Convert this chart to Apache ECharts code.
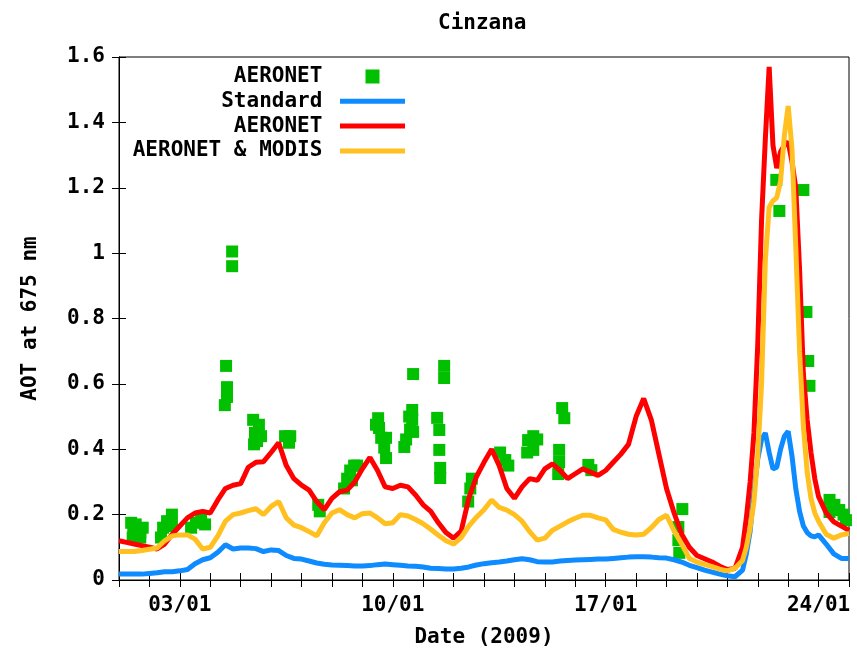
<!DOCTYPE html>
<html>
<head>
<meta charset="utf-8">
<script src="https://cdn.jsdelivr.net/npm/echarts@6/dist/echarts.min.js"></script>
<style>
  html, body { margin: 0; padding: 0; background: #ffffff; }
  #chart { width: 857px; height: 653px; }
</style>
</head>
<body>
<div id="chart"></div>
<script>
// Time is counted in days since 01/01/2009 00 UTC.
const modelDays = [
  0, 0.25, 0.5, 0.75, 1, 1.25, 1.5, 1.75, 2, 2.25, 2.5, 2.75, 3, 3.25, 3.5, 3.75, 4, 4.25, 4.5, 4.75,
  5, 5.25, 5.5, 5.75, 6, 6.25, 6.5, 6.75, 7, 7.25, 7.5, 7.75, 8, 8.25, 8.5, 8.75, 9, 9.25, 9.5, 9.75,
  10, 10.25, 10.5, 10.75, 11, 11.25, 11.5, 11.75, 12, 12.25, 12.5, 12.75, 13, 13.25, 13.5, 13.75, 14, 14.25, 14.5, 14.75,
  15, 15.25, 15.5, 15.75, 16, 16.25, 16.5, 16.75, 17, 17.25, 17.5, 17.75, 18, 18.25, 18.5, 18.75, 19, 19.25, 19.5, 19.75,
  20, 20.25, 20.5, 20.625, 20.75, 20.875, 21, 21.125, 21.25, 21.375, 21.5, 21.625, 21.75, 21.875, 22, 22.125, 22.25, 22.375, 22.5, 22.625,
  22.75, 22.875, 23, 23.25, 23.5, 23.75, 24
];

// Modelled AOT at 675 nm, standard run
const standardAot = [
  0.018, 0.018, 0.018, 0.018, 0.020, 0.022, 0.025, 0.025, 0.028, 0.032, 0.050, 0.062, 0.068, 0.085, 0.108, 0.095, 0.098, 0.098, 0.096, 0.087,
  0.092, 0.090, 0.075, 0.066, 0.064, 0.058, 0.052, 0.048, 0.046, 0.045, 0.044, 0.043, 0.043, 0.044, 0.047, 0.049, 0.047, 0.045, 0.043, 0.042,
  0.040, 0.036, 0.035, 0.034, 0.034, 0.036, 0.040, 0.046, 0.050, 0.053, 0.055, 0.058, 0.062, 0.065, 0.062, 0.056, 0.055, 0.055, 0.058, 0.060,
  0.061, 0.062, 0.063, 0.064, 0.064, 0.066, 0.068, 0.070, 0.071, 0.071, 0.070, 0.068, 0.067, 0.062, 0.055, 0.045, 0.038, 0.030, 0.024, 0.018,
  0.013, 0.010, 0.030, 0.080, 0.150, 0.270, 0.370, 0.430, 0.450, 0.390, 0.340, 0.345, 0.400, 0.440, 0.455, 0.380, 0.280, 0.210, 0.165, 0.145,
  0.135, 0.132, 0.138, 0.110, 0.080, 0.066, 0.066
];

// Modelled AOT, assimilating AERONET
const aeronetAot = [
  0.120, 0.115, 0.110, 0.105, 0.100, 0.095, 0.110, 0.140, 0.165, 0.190, 0.205, 0.210, 0.205, 0.245, 0.280, 0.290, 0.295, 0.345, 0.360, 0.362,
  0.390, 0.420, 0.350, 0.310, 0.290, 0.275, 0.240, 0.215, 0.250, 0.270, 0.275, 0.300, 0.340, 0.375, 0.335, 0.285, 0.280, 0.290, 0.285, 0.260,
  0.230, 0.210, 0.175, 0.145, 0.128, 0.150, 0.250, 0.316, 0.360, 0.400, 0.350, 0.280, 0.250, 0.285, 0.310, 0.305, 0.340, 0.355, 0.335, 0.310,
  0.325, 0.340, 0.330, 0.320, 0.335, 0.360, 0.385, 0.415, 0.500, 0.555, 0.490, 0.385, 0.280, 0.205, 0.140, 0.100, 0.075, 0.065, 0.055, 0.042,
  0.032, 0.035, 0.100, 0.190, 0.300, 0.450, 0.720, 1.100, 1.350, 1.570, 1.330, 1.260, 1.310, 1.330, 1.340, 1.280, 1.200, 0.950, 0.630, 0.490,
  0.390, 0.310, 0.255, 0.205, 0.178, 0.165, 0.152
];

// Modelled AOT, assimilating AERONET and MODIS
const aeronetModisAot = [
  0.087, 0.087, 0.087, 0.090, 0.094, 0.098, 0.120, 0.135, 0.138, 0.138, 0.125, 0.095, 0.100, 0.135, 0.180, 0.200, 0.205, 0.212, 0.218, 0.200,
  0.225, 0.240, 0.190, 0.168, 0.160, 0.148, 0.135, 0.175, 0.205, 0.215, 0.200, 0.190, 0.203, 0.205, 0.190, 0.172, 0.175, 0.200, 0.196, 0.185,
  0.172, 0.155, 0.137, 0.120, 0.110, 0.130, 0.165, 0.192, 0.215, 0.245, 0.222, 0.214, 0.200, 0.180, 0.148, 0.122, 0.128, 0.152, 0.165, 0.178,
  0.189, 0.198, 0.198, 0.190, 0.184, 0.155, 0.146, 0.140, 0.138, 0.140, 0.160, 0.185, 0.198, 0.150, 0.110, 0.066, 0.055, 0.048, 0.041, 0.033,
  0.028, 0.036, 0.060, 0.100, 0.160, 0.240, 0.380, 0.600, 0.980, 1.140, 1.160, 1.170, 1.220, 1.360, 1.450, 1.320, 1.020, 0.700, 0.470, 0.330,
  0.250, 0.205, 0.180, 0.140, 0.128, 0.138, 0.142
];

// AERONET sun-photometer retrievals
const obsDays = [
  0.40, 0.45, 0.47, 0.50, 0.55, 0.62, 0.70, 0.70, 0.78,
  1.38, 1.45, 1.58, 1.74, 1.74,
  2.37, 2.53, 2.70, 2.83,
  3.72, 3.72, 3.52, 3.55, 3.55, 3.48,
  4.41, 4.47, 4.54, 4.60, 4.67, 4.44,
  5.46, 5.59, 5.63,
  6.55, 6.60,
  7.40, 7.50, 7.60, 7.73, 7.83, 7.66,
  8.45, 8.52, 8.55, 8.62, 8.72, 8.78, 8.78,
  9.67, 9.64, 9.64, 9.57, 9.44, 9.38, 9.67, 9.54,
  10.69, 10.69, 10.46, 10.53, 10.53, 10.56, 10.56,
  11.48, 11.55, 11.60,
  12.53, 12.70, 12.80,
  13.45, 13.62, 13.75, 13.42, 13.62,
  14.57, 14.64, 14.47, 14.47, 14.44,
  15.43, 15.53,
  18.52, 18.39, 18.39, 18.42,
  21.61, 21.71, 22.50, 22.60, 22.66, 22.70,
  23.36, 23.52, 23.68, 23.82, 23.90, 23.36
];
const obsAot = [
  0.175, 0.130, 0.165, 0.140, 0.170, 0.155, 0.145, 0.130, 0.160,
  0.130, 0.160, 0.180, 0.200, 0.165,
  0.160, 0.175, 0.185, 0.170,
  1.005, 0.960, 0.655, 0.590, 0.560, 0.535,
  0.490, 0.450, 0.425, 0.475, 0.440, 0.415,
  0.440, 0.420, 0.440,
  0.230, 0.210,
  0.280, 0.310, 0.335, 0.350, 0.350, 0.305,
  0.475, 0.495, 0.465, 0.435, 0.405, 0.373, 0.435,
  0.630, 0.520, 0.490, 0.460, 0.430, 0.407, 0.453, 0.500,
  0.655, 0.618, 0.496, 0.459, 0.398, 0.343, 0.312,
  0.240, 0.280, 0.310,
  0.390, 0.367, 0.350,
  0.428, 0.440, 0.430, 0.390, 0.398,
  0.526, 0.495, 0.398, 0.361, 0.324,
  0.352, 0.336,
  0.217, 0.162, 0.122, 0.083,
  1.224, 1.129, 1.193, 0.820, 0.670, 0.594,
  0.245, 0.230, 0.214, 0.200, 0.183, 0.208
];

const tickDays = [2, 9, 16, 23];
const tickLabels = ['03/01', '10/01', '17/01', '24/01'];
const legendKeys = ['obs', 'standard', 'aeronet', 'aeronetModis'];
const legendLabels = ['AERONET', 'Standard', 'AERONET', 'AERONET & MODIS'];

const FONT = '"DejaVu Sans Mono", "Liberation Mono", monospace';
const LINE_ICON = 'path://M0,0H65V5H0Z';
const POINT_ICON = 'path://M0,0H13V13H0Z';
const pairs = (xs, ys) => xs.map((x, i) => [x, ys[i]]);

const chart = echarts.init(document.getElementById('chart'), null, { renderer: 'canvas' });

const textBase = { fontFamily: FONT, fontWeight: 'bold', fontSize: 21, color: '#000' };
const axisLineStyle = { color: '#000', width: 1 };

function lineSeries(key, values, color) {
  return {
    name: key,
    type: 'line',
    data: pairs(modelDays, values),
    symbol: 'none',
    smooth: false,
    lineStyle: { color: color, width: 5 },
    itemStyle: { color: color },
    silent: true
  };
}

chart.setOption({
  animation: false,
  backgroundColor: '#ffffff',
  title: {
    text: 'Cinzana',
    left: 433,
    top: 8,
    textStyle: Object.assign({}, textBase)
  },
  legend: {
    orient: 'vertical',
    align: 'right',
    right: 452,
    top: 66,
    padding: 0,
    itemWidth: 65,
    itemHeight: 14,
    itemGap: 3.8,
    symbolKeepAspect: true,
    selectedMode: false,
    data: [
      { name: legendKeys[0], icon: POINT_ICON },
      { name: legendKeys[1], icon: LINE_ICON },
      { name: legendKeys[2], icon: LINE_ICON },
      { name: legendKeys[3], icon: LINE_ICON }
    ],
    formatter: (name) => legendLabels[legendKeys.indexOf(name)] + ' ',
    textStyle: Object.assign({}, textBase)
  },
  grid: {
    left: 119,
    right: 8,
    top: 57,
    bottom: 73,
    show: true,
    borderColor: '#000',
    borderWidth: 1,
    backgroundColor: 'transparent'
  },
  xAxis: [
    {
      type: 'value',
      min: 0,
      max: 24,
      interval: 1,
      position: 'bottom',
      name: 'Date (2009)',
      nameLocation: 'middle',
      nameGap: 47,
      nameTextStyle: Object.assign({}, textBase),
      axisLine: { show: true, lineStyle: axisLineStyle },
      axisTick: { show: true, inside: true, length: 7, lineStyle: axisLineStyle },
      axisLabel: {
        show: true,
        margin: 15,
        formatter: (v) => {
          const i = tickDays.indexOf(v);
          return i >= 0 ? tickLabels[i] : '';
        },
        fontFamily: FONT, fontWeight: 'bold', fontSize: 21, color: '#000'
      },
      splitLine: { show: false }
    },
    {
      type: 'value',
      min: 0,
      max: 24,
      interval: 1,
      position: 'top',
      axisLine: { show: true, lineStyle: axisLineStyle },
      axisTick: { show: true, inside: true, length: 7, lineStyle: axisLineStyle },
      axisLabel: { show: false },
      splitLine: { show: false }
    }
  ],
  yAxis: [
    {
      type: 'value',
      min: 0,
      max: 1.6,
      interval: 0.2,
      position: 'left',
      name: 'AOT at 675 nm',
      nameLocation: 'middle',
      nameRotate: 90,
      nameGap: 78,
      nameTextStyle: Object.assign({}, textBase),
      axisLine: { show: true, lineStyle: axisLineStyle },
      axisTick: { show: true, inside: true, length: 7, lineStyle: axisLineStyle },
      axisLabel: { margin: 14, fontFamily: FONT, fontWeight: 'bold', fontSize: 21, color: '#000' },
      splitLine: { show: false }
    },
    {
      type: 'value',
      min: 0,
      max: 1.6,
      interval: 0.2,
      position: 'right',
      axisLine: { show: true, lineStyle: axisLineStyle },
      axisTick: { show: true, inside: true, length: 7, lineStyle: axisLineStyle },
      axisLabel: { show: false },
      splitLine: { show: false }
    }
  ],
  series: [
    {
      name: 'obs',
      type: 'scatter',
      data: pairs(obsDays, obsAot),
      symbol: 'rect',
      symbolSize: 12,
      itemStyle: { color: '#00c000', opacity: 1 },
      silent: true
    },
    lineSeries('standard', standardAot, '#0d8bff'),
    lineSeries('aeronet', aeronetAot, '#ff0000'),
    lineSeries('aeronetModis', aeronetModisAot, '#ffc020')
  ]
});
</script>
</body>
</html>
